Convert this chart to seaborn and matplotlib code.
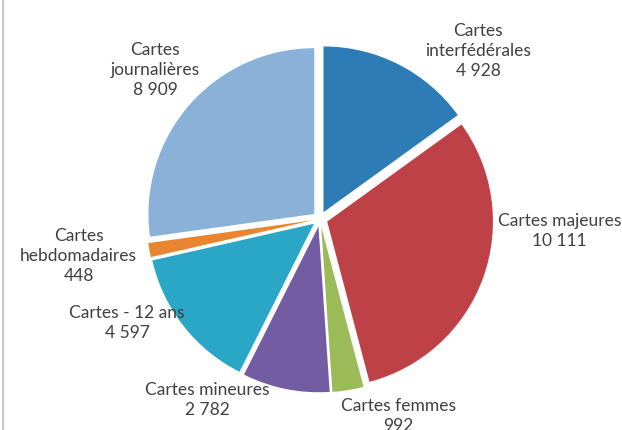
import matplotlib
matplotlib.use("Agg")
import matplotlib.pyplot as plt
from matplotlib.lines import Line2D
import seaborn as sns

# ---- data ----
categories = ["Cartes\ninterfédérales", "Cartes majeures", "Cartes femmes",
              "Cartes mineures", "Cartes - 12 ans", "Cartes\nhebdomadaires",
              "Cartes\njournalières"]
values = [4928, 10111, 992, 2782, 4597, 448, 8909]
value_labels = ["4 928", "10 111", "992", "2 782", "4 597", "448", "8 909"]
colors = ["#2E7CB6", "#BE4148", "#9BBB59", "#745CA2", "#2AA6C6", "#E88530", "#8AB2D8"]

# label block centres, in pie-radius units (style only)
label_pos = [(0.93, 0.99), (1.41, -0.07), (0.46, -1.16), (-0.665, -1.065),
             (-1.135, -0.61), (-1.42, -0.22), (-0.97, 0.876)]

sns.set_theme(style="white")
plt.rcParams["font.family"] = ["Lato", "DejaVu Sans"]

fig = plt.figure(figsize=(6.22, 4.30), dpi=100)
ax = fig.add_axes([0, 0, 1, 1])

R = 170.0  # pixels per radius unit
cx, cy = 320.0, 219.0
ax.pie(values, colors=colors, startangle=90, counterclock=False,
       explode=[0.045] * len(values), radius=0.975,
       wedgeprops=dict(linewidth=0))

for cat, val, (lx, ly) in zip(categories, value_labels, label_pos):
    ax.text(lx, ly, f"{cat}\n{val}", ha="center", va="center",
            fontsize=12.5, color="#404040", linespacing=1.3)

ax.set_xlim(-cx / R, (622 - cx) / R)
ax.set_ylim((cy - 430) / R, cy / R)
ax.set_aspect("equal")
ax.axis("off")

fig.add_artist(Line2D([0.005, 0.005], [0, 1], transform=fig.transFigure,
                      color="#c8c8c8", linewidth=1.5))

fig.savefig("out.png", dpi=100, facecolor="white")
